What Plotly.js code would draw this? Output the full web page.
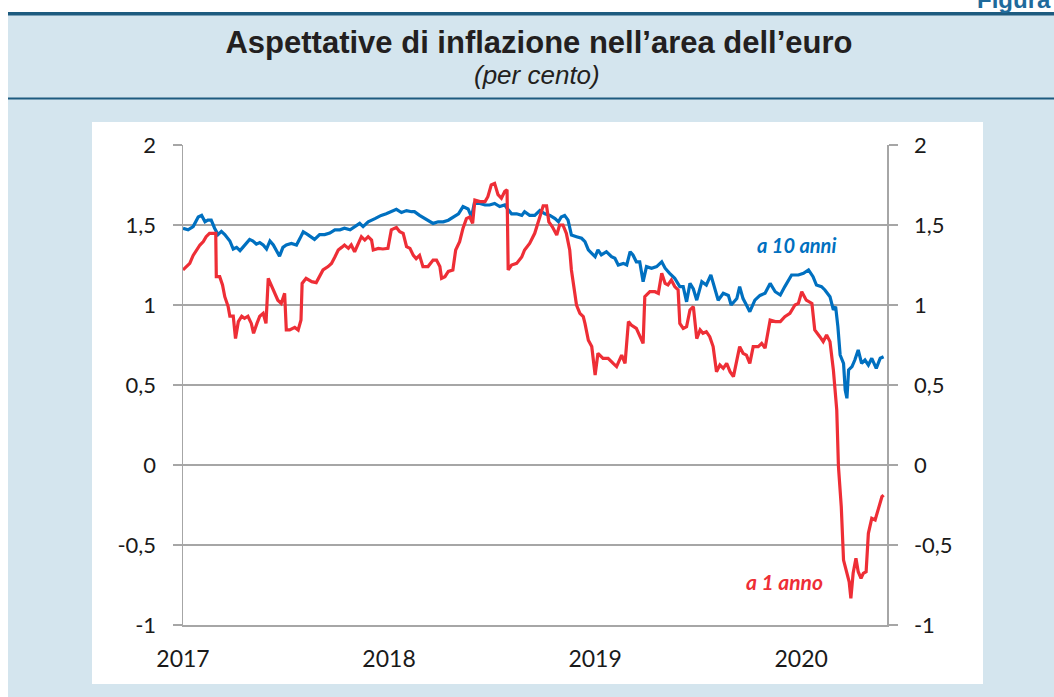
<!DOCTYPE html>
<html>
<head>
<meta charset="utf-8">
<script src="https://cdn.plot.ly/plotly-3.0.1.min.js"></script>
<style>html,body{margin:0;padding:0;background:#fff;}#chart{width:1054px;height:697px;}</style>
</head>
<body>
<div id="chart"></div>
<script>
// ---- data (decimal years, per cent) ----
const tenYearT = [2017.002,2017.026,2017.050,2017.074,2017.091,2017.107,2017.123,2017.139,2017.155,2017.172,2017.188,2017.204,2017.228,2017.244,2017.261,2017.277,2017.293,2017.309,2017.325,2017.341,2017.357,2017.374,2017.390,2017.406,2017.422,2017.439,2017.455,2017.471,2017.487,2017.503,2017.528,2017.552,2017.568,
2017.584,2017.608,2017.641,2017.665,2017.689,2017.714,2017.738,2017.762,2017.786,2017.811,2017.835,2017.859,2017.875,2017.900,2017.932,2017.964,2017.989,2018.013,2018.037,2018.061,2018.086,2018.110,
2018.126,2018.150,2018.175,2018.199,2018.215,2018.239,2018.264,2018.288,2018.312,2018.337,2018.361,2018.385,2018.401,2018.414,2018.442,2018.466,2018.490,2018.515,2018.539,2018.563,2018.574,2018.595,2018.620,2018.644,
2018.660,2018.684,2018.709,2018.733,2018.757,2018.782,2018.806,2018.822,2018.838,2018.854,2018.871,2018.887,2018.911,2018.935,2018.951,2018.968,2018.984,2019.000,2019.016,2019.032,2019.057,2019.081,2019.097,2019.113,2019.138,2019.154,2019.170,2019.186,2019.202,2019.218,
2019.235,2019.251,2019.275,2019.299,2019.324,2019.340,2019.364,2019.388,2019.413,2019.429,2019.445,2019.461,2019.477,2019.494,2019.518,2019.542,2019.562,2019.583,2019.599,2019.623,2019.647,2019.663,2019.688,2019.704,2019.720,2019.736,2019.752,2019.777,2019.801,2019.825,2019.850,
2019.874,2019.899,2019.922,2019.955,2019.987,2020.011,2020.036,2020.060,2020.076,2020.100,2020.117,2020.141,2020.157,2020.168,2020.178,2020.189,2020.206,2020.214,2020.223,2020.230,2020.246,2020.262,2020.278,2020.295,2020.311,2020.327,2020.343,2020.364,2020.383,2020.400];
const tenYearV = [1.48,1.47,1.49,1.55,1.56,1.52,1.53,1.53,1.48,1.44,1.46,1.44,1.40,1.35,1.36,1.34,1.36,1.385,1.41,1.40,1.38,1.39,1.375,1.35,1.40,1.375,1.34,1.305,1.36,1.375,1.385,1.375,1.415,
1.458,1.44,1.41,1.44,1.44,1.45,1.47,1.47,1.48,1.47,1.49,1.51,1.49,1.52,1.54,1.56,1.57,1.583,1.598,1.578,1.59,1.583,
1.583,1.56,1.54,1.52,1.51,1.52,1.52,1.53,1.55,1.57,1.615,1.60,1.55,1.635,1.635,1.625,1.625,1.635,1.615,1.625,1.604,1.57,1.57,1.56,
1.583,1.56,1.56,1.59,1.57,1.56,1.54,1.52,1.55,1.56,1.53,1.4375,1.427,1.417,1.396,1.344,1.323,1.302,1.344,1.313,1.333,1.302,1.292,1.25,1.26,1.25,1.333,1.313,1.27,1.27,
1.146,1.24,1.23,1.24,1.27,1.23,1.198,1.167,1.115,1.115,1.02,1.135,1.10,1.03,1.146,1.125,1.188,1.094,1.03,1.073,1.06,1.0,1.04,1.115,1.04,1.0,0.958,1.03,1.06,1.073,1.135,
1.083,1.0625,1.115,1.1875,1.1875,1.198,1.219,1.177,1.125,1.115,1.094,1.052,0.969,0.99,0.865,0.6875,0.635,0.469,0.417,0.594,0.615,0.656,0.719,0.635,0.656,0.625,0.667,0.604,0.667,0.677];

const oneYearT = [2017.002,2017.018,2017.034,2017.050,2017.066,2017.083,2017.099,2017.115,2017.131,2017.147,2017.159,2017.163,2017.180,2017.193,2017.204,2017.220,2017.228,2017.244,2017.256,2017.269,2017.285,2017.301,2017.317,2017.333,2017.345,2017.361,2017.374,2017.390,2017.403,2017.414,2017.430,2017.447,2017.463,2017.479,2017.495,2017.503,2017.519,2017.544,
2017.560,2017.573,2017.579,2017.600,2017.625,2017.649,2017.665,2017.681,2017.706,2017.722,2017.738,2017.754,2017.770,2017.786,2017.803,2017.819,2017.835,2017.851,2017.867,2017.883,2017.900,2017.916,2017.924,2017.948,2017.972,2017.997,2018.013,2018.037,2018.053,2018.070,2018.086,
2018.102,2018.118,2018.134,2018.150,2018.167,2018.191,2018.215,2018.231,2018.248,2018.256,2018.272,2018.288,2018.312,2018.325,2018.345,2018.361,2018.377,2018.393,2018.406,2018.417,2018.442,2018.466,2018.482,2018.498,2018.515,2018.531,2018.547,2018.563,2018.574,2018.579,2018.595,2018.620,2018.644,
2018.660,2018.684,2018.709,2018.733,2018.749,2018.765,2018.777,2018.793,2018.814,2018.830,2018.846,2018.862,2018.879,2018.887,2018.895,2018.903,2018.911,2018.927,2018.943,2018.951,2018.968,2018.984,2019.000,2019.016,2019.040,2019.065,2019.089,2019.105,2019.129,2019.146,2019.162,2019.178,2019.202,2019.218,2019.235,
2019.243,2019.267,2019.291,2019.307,2019.324,2019.340,2019.356,2019.372,2019.388,2019.404,2019.413,2019.429,2019.445,2019.461,2019.477,2019.494,2019.510,2019.526,2019.542,2019.558,2019.574,2019.591,2019.607,2019.623,2019.639,2019.655,2019.672,2019.688,2019.704,2019.720,2019.736,2019.752,2019.769,2019.793,2019.809,2019.825,2019.842,
2019.850,2019.874,2019.899,2019.922,2019.947,2019.971,2019.987,2020.003,2020.027,2020.052,2020.068,2020.092,2020.108,2020.125,2020.141,2020.157,2020.165,2020.173,2020.181,2020.194,2020.206,2020.222,2020.233,2020.243,2020.254,2020.267,2020.278,2020.291,2020.303,2020.316,2020.327,2020.343,2020.359,2020.376,2020.392,2020.400];
const oneYearV = [1.219,1.24,1.26,1.31,1.344,1.375,1.396,1.427,1.448,1.448,1.448,1.177,1.177,1.125,1.052,0.99,0.93,0.93,0.79,0.896,0.93,0.917,0.93,0.885,0.823,0.885,0.93,0.948,0.885,1.167,1.125,1.06,1.03,1.01,1.073,0.844,0.844,0.86,
0.844,0.906,1.135,1.167,1.146,1.14,1.177,1.219,1.24,1.26,1.30,1.344,1.36,1.375,1.354,1.375,1.333,1.385,1.427,1.406,1.427,1.406,1.344,1.354,1.35,1.354,1.47,1.485,1.458,1.448,1.365,
1.354,1.31,1.29,1.31,1.24,1.24,1.281,1.281,1.24,1.167,1.177,1.21,1.219,1.344,1.396,1.48,1.54,1.55,1.51,1.656,1.646,1.646,1.677,1.75,1.76,1.69,1.667,1.71,1.72,1.219,1.25,1.26,1.30,
1.344,1.385,1.448,1.55,1.62,1.62,1.52,1.49,1.4375,1.50,1.50,1.448,1.344,1.219,1.156,1.073,1.0,0.948,0.927,0.885,0.78,0.74,0.5625,0.698,0.667,0.667,0.635,0.615,0.687,0.635,0.896,0.875,0.854,0.802,0.76,
1.052,1.083,1.083,1.073,1.198,1.135,1.125,1.156,1.115,1.094,0.885,0.854,0.865,0.969,0.99,0.79,0.844,0.823,0.833,0.802,0.74,0.583,0.625,0.604,0.635,0.583,0.552,0.656,0.74,0.698,0.687,0.635,0.74,0.74,0.76,0.73,0.865,
0.906,0.896,0.896,0.927,0.948,1.0,1.01,1.083,1.03,1.01,0.844,0.802,0.771,0.813,0.771,0.594,0.49,0.344,-0.01,-0.26,-0.594,-0.677,-0.73,-0.833,-0.677,-0.583,-0.667,-0.708,-0.677,-0.667,-0.427,-0.333,-0.344,-0.271,-0.198,-0.188];

const yearTicks = ['2017-01-01','2018-01-01','2019-01-01','2020-01-01'];
const yearLabels = ['2017','2018','2019','2020'];
const yTickVals = [-1,-0.5,0,0.5,1,1.5,2];
const yTickText = ['-1','-0,5','0','0,5','1','1,5','2'];
const seriesNames = ['a 10 anni','a 1 anno'];

// decimal year -> ISO date
function toDate(t){
  const y = Math.floor(t);
  const s = Date.UTC(y,0,1), e = Date.UTC(y+1,0,1);
  return new Date(s + (t-y)*(e-s)).toISOString().slice(0,10);
}

const BLUE = '#0070C0', RED = '#EE2E36';
const tickFont = {family:'Lato, "Open Sans", sans-serif', size:22, color:'#1a1a1a'};
const xTickFont = {family:'Lato, "Open Sans", sans-serif', size:23, color:'#1a1a1a'};
const GRID = '#a6a6a6';

const traces = [
  {x: tenYearT.map(toDate), y: tenYearV, type:'scatter', mode:'lines', name: seriesNames[0],
   line:{color:BLUE, width:3.2}, yaxis:'y', hoverinfo:'skip'},
  {x: oneYearT.map(toDate), y: oneYearV, type:'scatter', mode:'lines', name: seriesNames[1],
   line:{color:RED, width:3.2}, yaxis:'y2', hoverinfo:'skip'}
];

// helpers for paper coordinates from page pixels (plot area 183..887 x 145..625)
const L=183, R=887, T=145, B=625;
const px = v => (v-L)/(R-L);
const py = v => (B-v)/(B-T);

const layout = {
  width:1054, height:697,
  margin:{l:L, r:1054-R, t:T, b:697-B, pad:0},
  paper_bgcolor:'rgb(212,229,238)',
  plot_bgcolor:'#ffffff',
  showlegend:false,
  title:{text:'<b>Aspettative di inflazione nell\u2019area dell\u2019euro</b>',
    font:{family:'"Liberation Sans", Arial, sans-serif', size:31, color:'#231f20'},
    xref:'container', yref:'container', x:539/1054, xanchor:'center', y:1-42/697, yanchor:'middle'},
  xaxis:{type:'date', range:['2017-01-01','2020-06-01'], tickvals:yearTicks, ticktext:yearLabels,
    showgrid:false, zeroline:false, showline:true, linecolor:GRID, linewidth:1.5,
    ticks:'', tickfont:xTickFont, ticklabelstandoff:13, fixedrange:true},
  yaxis:{range:[-1,2], tickvals:yTickVals, ticktext:yTickText, showgrid:true, gridcolor:GRID, gridwidth:1.5,
    zeroline:false, showline:true, linecolor:GRID, linewidth:1.5, ticks:'outside', ticklen:9, tickwidth:1.5,
    tickcolor:GRID, tickfont:tickFont, ticklabelstandoff:12, fixedrange:true},
  yaxis2:{range:[-1,2], overlaying:'y', side:'right', tickvals:yTickVals, ticktext:yTickText, showgrid:false,
    zeroline:false, showline:true, linecolor:GRID, linewidth:1.5, ticks:'outside', ticklen:9, tickwidth:1.5,
    tickcolor:GRID, tickfont:tickFont, ticklabelstandoff:12, fixedrange:true},
  shapes:[
    {type:'rect', xref:'paper', yref:'paper', x0:px(-5), x1:px(8), y0:py(700), y1:py(-5), fillcolor:'#ffffff', line:{width:0}, layer:'below'},
    {type:'rect', xref:'paper', yref:'paper', x0:px(-5), x1:px(1060), y0:py(12), y1:py(-5), fillcolor:'#ffffff', line:{width:0}, layer:'below'},
    {type:'rect', xref:'paper', yref:'paper', x0:px(8), x1:px(1060), y0:py(15.5), y1:py(12), fillcolor:'#1d5b7f', line:{width:0}, layer:'below'},
    {type:'rect', xref:'paper', yref:'paper', x0:px(8), x1:px(1060), y0:py(99.5), y1:py(97.5), fillcolor:'#1d5b7f', line:{width:0}, layer:'below'},
    {type:'rect', xref:'paper', yref:'paper', x0:px(92), x1:px(983), y0:py(684), y1:py(122), fillcolor:'#ffffff', line:{width:0}, layer:'below'}
  ],
  annotations:[
    {text:'<i>(per cento)</i>', xref:'paper', yref:'paper', x:px(537), y:py(75), xanchor:'center', yanchor:'middle',
     showarrow:false, font:{family:'"Liberation Sans", Arial, sans-serif', size:26, color:'#231f20'}},
    {text:'<b>Figura</b>', xref:'paper', yref:'paper', x:px(1053), y:py(-1), xanchor:'right', yanchor:'middle',
     showarrow:false, font:{family:'"Liberation Sans", Arial, sans-serif', size:24, color:'#1e6a9b'}},
    {text:'<b><i>'+seriesNames[0]+'</i></b>', xref:'x', yref:'y', x:toDate(2019.98), y:1.375, showarrow:false,
     font:{family:'Lato, "Open Sans", sans-serif', size:20, color:BLUE}},
    {text:'<b><i>'+seriesNames[1]+'</i></b>', xref:'x', yref:'y', x:toDate(2019.92), y:-0.73, showarrow:false,
     font:{family:'Lato, "Open Sans", sans-serif', size:21, color:RED}}
  ]
};

Plotly.newPlot('chart', traces, layout, {displayModeBar:false, staticPlot:true});
</script>
</body>
</html>
